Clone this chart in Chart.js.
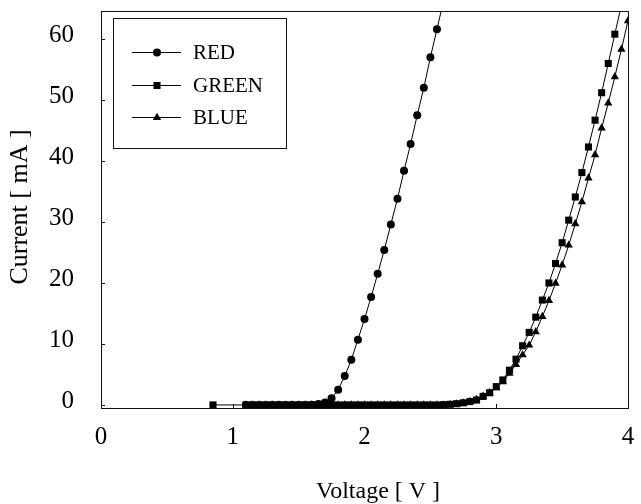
<!DOCTYPE html>
<html>
<head>
<meta charset="utf-8">
<title>LED I-V characteristics</title>
<script src="https://cdn.jsdelivr.net/npm/chart.js@4/dist/chart.umd.min.js"></script>
<style>
  html, body { margin: 0; padding: 0; background: #fff; }
  #wrap { width: 641px; height: 504px; }
</style>
</head>
<body>
<div id="wrap"><canvas id="c" width="641" height="504"></canvas></div>
<script>
// Forward I-V curves of red, green and blue LEDs (voltage in V, current in mA)
const seriesNames = ['RED', 'GREEN', 'BLUE'];

const voltRed = [1.10, 1.15, 1.20, 1.25, 1.30, 1.35, 1.40, 1.45, 1.50, 1.55,
  1.60, 1.65, 1.70, 1.75, 1.80, 1.85, 1.90, 1.95, 2.00, 2.05, 2.10, 2.15,
  2.20, 2.25, 2.30, 2.35, 2.40, 2.45, 2.50, 2.55, 2.60];
const currentRed = [0, 0, 0, 0, 0, 0, 0, 0, 0, 0,
  0.05, 0.15, 0.4, 1.1, 2.5, 4.75, 7.4, 10.7, 14.1, 17.7, 21.5, 25.4,
  29.6, 33.8, 38.4, 42.8, 47.5, 52.0, 57.0, 61.6, 66.3];

const voltGreen = [0.85, 1.10, 1.15, 1.20, 1.25, 1.30, 1.35, 1.40, 1.45, 1.50,
  1.55, 1.60, 1.65, 1.70, 1.75, 1.80, 1.85, 1.90, 1.95, 2.00, 2.05, 2.10,
  2.15, 2.20, 2.25, 2.30, 2.35, 2.40, 2.45, 2.50, 2.55, 2.60, 2.65, 2.70,
  2.75, 2.80, 2.85, 2.90, 2.95, 3.00, 3.05, 3.10, 3.15, 3.20, 3.25, 3.30,
  3.35, 3.40, 3.45, 3.50, 3.55, 3.60, 3.65, 3.70, 3.75, 3.80, 3.85, 3.90, 3.95];
const currentGreen = [0, 0, 0, 0, 0, 0, 0, 0, 0, 0,
  0, 0, 0, 0, 0, 0, 0, 0, 0, 0, 0, 0,
  0, 0, 0, 0, 0, 0, 0, 0, 0, 0.05, 0.1, 0.2,
  0.35, 0.55, 0.8, 1.4, 2.0, 3.0, 4.1, 5.7, 7.5, 9.7, 11.9, 14.4,
  17.2, 20.0, 23.2, 26.6, 30.3, 34.1, 38.1, 42.3, 46.7, 51.2, 56.0, 60.8, 65.6];

const voltBlue = [1.10, 1.15, 1.20, 1.25, 1.30, 1.35, 1.40, 1.45, 1.50, 1.55,
  1.60, 1.65, 1.70, 1.75, 1.80, 1.85, 1.90, 1.95, 2.00, 2.05, 2.10, 2.15,
  2.20, 2.25, 2.30, 2.35, 2.40, 2.45, 2.50, 2.55, 2.60, 2.65, 2.70, 2.75,
  2.80, 2.85, 2.90, 2.95, 3.00, 3.05, 3.10, 3.15, 3.20, 3.25, 3.30, 3.35,
  3.40, 3.45, 3.50, 3.55, 3.60, 3.65, 3.70, 3.75, 3.80, 3.85, 3.90, 3.95, 4.00];
const currentBlue = [0, 0, 0, 0, 0, 0, 0, 0, 0, 0,
  0, 0, 0, 0, 0, 0, 0, 0, 0, 0, 0, 0,
  0, 0, 0, 0, 0, 0, 0, 0, 0, 0.05, 0.15, 0.3,
  0.55, 0.9, 1.4, 2.0, 2.8, 3.8, 5.2, 6.6, 8.2, 9.8, 12.0, 14.5,
  17.1, 19.95, 22.95, 26.2, 29.7, 33.3, 37.2, 41.0, 45.4, 49.5, 53.8, 58.3, 63.0];

const xTicks = [0, 1, 2, 3, 4];
const yTicks = [0, 10, 20, 30, 40, 50, 60];
const xTitle = 'Voltage [ V ]';
const yTitle = 'Current [ mA ]';

const SERIF = '"Liberation Serif", "DejaVu Serif", serif';
const INK = '#000';

function toPoints(xs, ys) {
  return xs.map((v, i) => ({ x: v, y: ys[i] }));
}

const markers = [
  { pointStyle: 'circle', radius: 4 },
  { pointStyle: 'rect', radius: 5 },
  { pointStyle: 'triangle', radius: 4.8 }
];

function makeSet(i, pts) {
  return {
    label: seriesNames[i],
    data: pts,
    showLine: true,
    borderColor: INK,
    borderWidth: 1,
    backgroundColor: INK,
    pointBackgroundColor: INK,
    pointBorderColor: INK,
    pointBorderWidth: 0,
    pointStyle: markers[i].pointStyle,
    pointRadius: markers[i].radius,
    pointHoverRadius: markers[i].radius,
    tension: 0
  };
}

// scales keep exactly the size given to them, with no extra edge padding
function fixedBox(size, horizontal) {
  return function (s) {
    if (horizontal) { s.height = size; } else { s.width = size; }
    s.paddingTop = 0; s.paddingBottom = 0; s.paddingLeft = 0; s.paddingRight = 0;
  };
}

// frame, inward tick marks, boxed legend and axis titles
const decorations = {
  id: 'decorations',
  afterDraw(chart) {
    const ctx = chart.ctx;
    const a = chart.chartArea;
    const xs = chart.scales.x, ys = chart.scales.y;
    ctx.save();
    ctx.strokeStyle = '#111';
    ctx.lineWidth = 1;
    ctx.strokeRect(Math.round(a.left) + 0.5, Math.round(a.top) + 0.5,
      Math.round(a.right - a.left), Math.round(a.bottom - a.top));

    ctx.beginPath();
    xTicks.forEach(v => {
      const px = Math.round(xs.getPixelForValue(v)) + 0.5;
      ctx.moveTo(px, a.bottom);
      ctx.lineTo(px, a.bottom - 4);
    });
    yTicks.forEach(v => {
      const py = Math.round(ys.getPixelForValue(v)) + 0.5;
      ctx.moveTo(a.left, py);
      ctx.lineTo(a.left + 4, py);
    });
    ctx.stroke();

    // legend box
    const box = { x: 113, y: 18, w: 173, h: 130 };
    ctx.strokeRect(box.x + 0.5, box.y + 0.5, box.w, box.h);
    const rows = [52, 85, 117];
    ctx.font = '21px ' + SERIF;
    ctx.textAlign = 'left';
    ctx.textBaseline = 'middle';
    chart.data.datasets.forEach((ds, i) => {
      const y = rows[i] + 0.5;
      ctx.strokeStyle = INK;
      ctx.beginPath();
      ctx.moveTo(132, y);
      ctx.lineTo(181, y);
      ctx.stroke();
      ctx.fillStyle = INK;
      Chart.helpers.drawPoint(ctx, {
        pointStyle: ds.pointStyle, radius: ds.pointRadius, rotation: 0, borderWidth: 0
      }, 157, y);
      ctx.fillStyle = INK;
      ctx.fillText(ds.label, 193, rows[i] + 1);
    });

    // axis titles
    ctx.fillStyle = INK;
    ctx.textAlign = 'center';
    ctx.textBaseline = 'middle';
    ctx.font = '24px ' + SERIF;
    ctx.fillText(xTitle, 378, 492);
    ctx.font = '26px ' + SERIF;
    ctx.save();
    ctx.translate(20, 207);
    ctx.rotate(-Math.PI / 2);
    ctx.fillText(yTitle, 0, 0);
    ctx.restore();
    ctx.restore();
  }
};

new Chart(document.getElementById('c'), {
  type: 'scatter',
  data: {
    datasets: [
      makeSet(0, toPoints(voltRed, currentRed)),
      makeSet(1, toPoints(voltGreen, currentGreen)),
      makeSet(2, toPoints(voltBlue, currentBlue))
    ]
  },
  options: {
    responsive: false,
    devicePixelRatio: 1,
    animation: false,
    layout: { padding: { left: 0, right: 13, top: 11, bottom: 0 } },
    plugins: { legend: { display: false }, tooltip: { enabled: false } },
    scales: {
      x: {
        type: 'linear',
        min: 0,
        max: 4,
        afterBuildTicks(s) { s.ticks = xTicks.map(v => ({ value: v })); },
        afterFit: fixedBox(96, true),
        grid: { display: false, drawTicks: false, tickLength: 0 },
        border: { display: false },
        ticks: {
          color: INK,
          font: { family: SERIF, size: 25 },
          padding: 14,
          maxRotation: 0,
          autoSkip: false
        }
      },
      y: {
        type: 'linear',
        min: -0.5,
        max: 64.6,
        afterBuildTicks(s) { s.ticks = yTicks.map(v => ({ value: v })); },
        afterFit: fixedBox(101, false),
        grid: { display: false, drawTicks: false, tickLength: 0 },
        border: { display: false },
        ticks: {
          color: INK,
          font: { family: SERIF, size: 25 },
          padding: 27,
          labelOffset: -4,
          autoSkip: false
        }
      }
    }
  },
  plugins: [decorations]
});
</script>
</body>
</html>
